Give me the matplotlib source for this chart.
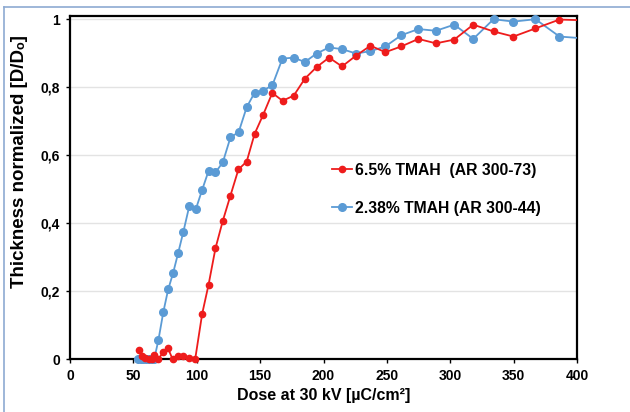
import matplotlib
matplotlib.use("Agg")
import matplotlib.pyplot as plt
from matplotlib.transforms import Bbox, TransformedBbox

plt.rcParams['font.family'] = ['Liberation Sans', 'DejaVu Sans']
plt.rcParams['font.weight'] = 'bold'

# 6.5% TMAH (AR 300-73)
dose_red = [54.6, 57, 59.5, 62, 64.5, 66.5, 69.8, 73.5, 77.2, 80.9, 85.1, 89.4, 94.1, 98.8,
            104.3, 109.3, 114.8, 120.6, 126.6, 132.9, 139.4, 145.7, 152.2, 159.6, 167.7,
            176.5, 185.3, 194.5, 204.4, 214.6, 225.7, 237.0, 248.8, 261.4, 274.8, 288.7,
            303.1, 318.1, 334.1, 349.8, 367.2, 386.1, 404]
thick_red = [0.028, 0.01, 0.004, 0.0, 0.0, 0.012, 0.0, 0.02, 0.033, 0.0, 0.01, 0.008, 0.002, 0.0,
             0.133, 0.218, 0.326, 0.407, 0.481, 0.558, 0.581, 0.663, 0.717, 0.783, 0.760,
             0.775, 0.825, 0.859, 0.887, 0.861, 0.893, 0.922, 0.903, 0.920, 0.942, 0.929,
             0.940, 0.984, 0.964, 0.949, 0.973, 0.999, 0.997]

# 2.38% TMAH (AR 300-44)
dose_blue = [54, 56, 58, 60, 62, 64, 66.5, 69.8, 73.7, 77.5, 81.3, 85.3, 89.5, 94.2, 99.3,
             104.3, 109.3, 114.8, 120.6, 126.6, 133.1, 139.4, 145.7, 152.2, 159.6, 167.6,
             176.5, 185.3, 194.5, 204.4, 214.6, 225.7, 237.0, 248.8, 261.4, 274.8, 288.7,
             303.1, 318.1, 334.1, 349.8, 367.2, 386.1, 404]
thick_blue = [0.0, 0.0, 0.0, 0.0, 0.0, 0.0, 0.0, 0.056, 0.139, 0.205, 0.252, 0.311, 0.375, 0.451, 0.441,
              0.498, 0.553, 0.549, 0.579, 0.652, 0.668, 0.741, 0.784, 0.790, 0.805, 0.884,
              0.887, 0.874, 0.899, 0.917, 0.912, 0.899, 0.906, 0.920, 0.953, 0.971, 0.966,
              0.984, 0.942, 1.0, 0.993, 1.0, 0.949, 0.944]

xticks = [0, 50, 100, 150, 200, 250, 300, 350, 400]
yticks = [0, 0.2, 0.4, 0.6, 0.8, 1.0]
ytick_labels = ['0', '0,2', '0,4', '0,6', '0,8', '1']

fig = plt.figure(figsize=(6.3, 4.12), dpi=100)
ax = fig.add_axes([0.111, 0.1286, 0.805, 0.833])

# light blue frame line on top and left of the figure
fig.add_artist(plt.Line2D([3.5 / 630, 3.5 / 630], [0, 1 - 6.5 / 412], transform=fig.transFigure,
                          color='#8eaad2', lw=1.2))
fig.add_artist(plt.Line2D([3.5 / 630, 1], [1 - 6.5 / 412, 1 - 6.5 / 412], transform=fig.transFigure,
                          color='#8eaad2', lw=1.2))

l1, = ax.plot(dose_red, thick_red, color='#ee1c1c', marker='o', ms=4.5, lw=1.3,
              label='6.5% TMAH  (AR 300-73)', zorder=4)
l2, = ax.plot(dose_blue, thick_blue, color='#5b9bd5', marker='o', ms=5.5, lw=1.3,
              label='2.38% TMAH (AR 300-44)', zorder=3)
# clip only at the left/right edges so markers at 0 and 1 stay whole
clip = TransformedBbox(Bbox([[0, -0.05], [1, 1.05]]), ax.transAxes)
for ln in (l1, l2):
    ln.set_clip_box(clip)

ax.set_xlim(0, 400)
ax.set_ylim(0, 1.01)
ax.set_xticks(xticks)
ax.set_yticks(yticks)
ax.set_yticklabels(ytick_labels)
ax.tick_params(labelsize=10, length=3, width=1, direction='out', pad=4)
for lab in ax.get_xticklabels() + ax.get_yticklabels():
    lab.set_fontweight('bold')

ax.grid(axis='y', color='#e3e3e3', lw=1)
ax.set_axisbelow(True)
for s in ax.spines.values():
    s.set_linewidth(1.6)
    s.set_color('black')

ax.set_xlabel('Dose at 30 kV [µC/cm²]', fontsize=11.5, fontweight='bold', labelpad=4)
ax.set_ylabel('Thickness normalized [D/Dₒ]', fontsize=13.5, fontweight='bold')
ax.yaxis.set_label_coords(-0.083, 0.574)

leg = ax.legend(loc='center left', bbox_to_anchor=(0.507, 0.495), frameon=True, fontsize=11.3,
                handlelength=1.3, handletextpad=0.15, labelspacing=1.45, borderpad=0.3,
                borderaxespad=0)
leg.get_frame().set_edgecolor('none')
leg.get_frame().set_facecolor('white')
leg.get_frame().set_alpha(1)
for t in leg.get_texts():
    t.set_fontweight('bold')

fig.savefig('out.png', dpi=100)
